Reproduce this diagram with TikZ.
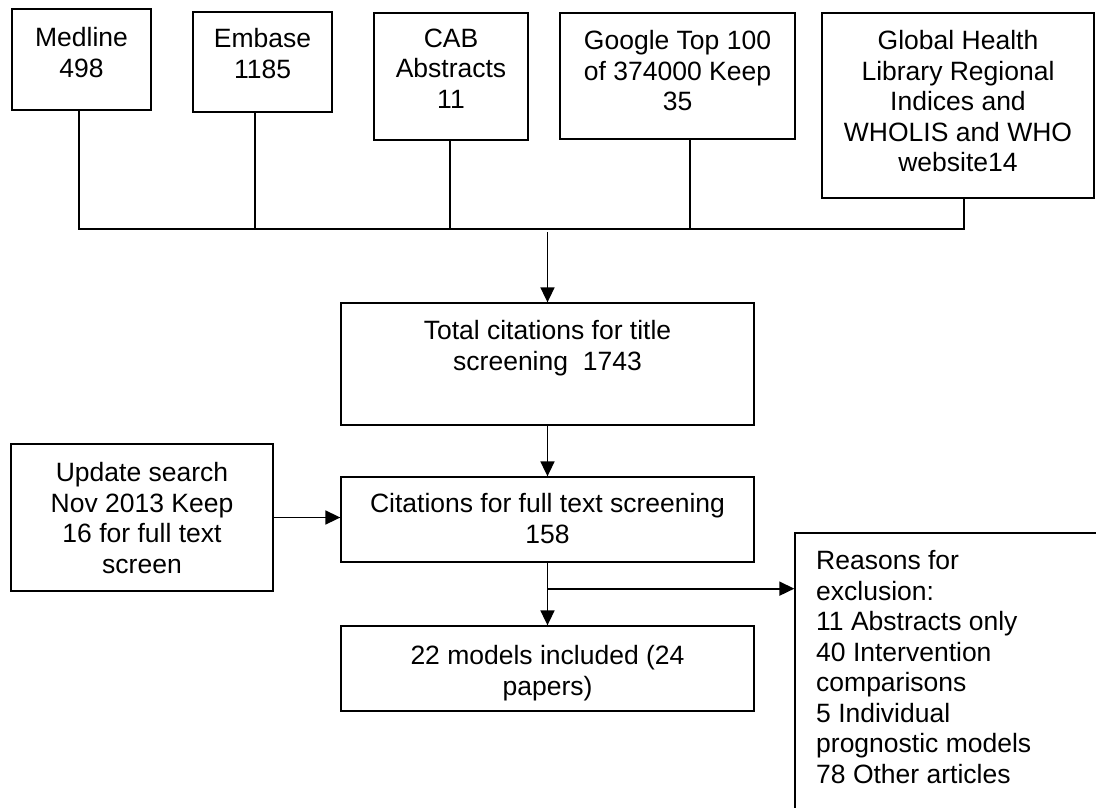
\documentclass[tikz,border=0pt]{standalone}
\usepackage{fontspec}
\setmainfont{Liberation Sans}
\usetikzlibrary{arrows.meta,fit,calc}
\begin{document}
\begin{tikzpicture}[x=1pt,y=-1pt,
  box/.style={draw, line width=1.3pt, inner sep=0pt},
  lbl/.style={inner sep=0pt, anchor=north, align=center, font=\fontsize{26.5}{30.5}\selectfont},
  lblL/.style={lbl, anchor=north west, align=left},
  conn/.style={line width=1.7pt},
  arr/.style={conn, -{Triangle[length=15pt,width=14pt]}}]
\useasboundingbox (0,0) rectangle (1096,807);
\clip (0,0) rectangle (1096,807);
% source boxes
\node[box, fit={(12,9) (151,110)}] (medline) {};
\node[lbl] (medlineT) at (81.5,27.5) {Medline\\498};
\node[box, fit={(193,12) (332,112)}] (embase) {};
\node[lbl] (embaseT) at (262.5,28.5) {Embase\\1185};
\node[box, fit={(374,13) (528,140)}] (cab) {};
\node[lbl] (cabT) at (451,28.5) {CAB\\Abstracts\\11};
\node[box, fit={(560,13) (795,139)}] (google) {};
\node[lbl] (googleT) at (677.5,30.5) {Google Top 100\\of 374000 Keep\\35};
\node[box, fit={(822,13) (1094,198)}] (global) {};
\node[lbl] (globalT) at (958,30.5) {Global Health\\Library Regional\\Indices and\\WHOLIS and WHO\\website14};
% main column
\node[box, fit={(341,303) (754,425)}] (total) {};
\node[lbl] (totalT) at (547.5,320.5) {Total citations for title\\screening~~1743};
\node[box, fit={(341,477) (754,562)}] (citations) {};
\node[lbl] (citationsT) at (547.5,493.5) {Citations for full text screening\\158};
\node[box, fit={(341,626) (754,711)}] (models) {};
\node[lbl] (modelsT) at (547.5,645.5) {22 models included (24\\papers)};
\node[box, fit={(11,444) (273,591)}] (update) {};
\node[lbl] (updateT) at (142,462.5) {Update search\\Nov 2013 Keep\\16 for full text\\screen};
\node[box, fit={(795,533) (1130,840)}] (reasons) {};
\node[lblL] (reasonsT) at (816,550.5) {Reasons for\\exclusion:\\11 Abstracts only\\40 Intervention\\comparisons\\5 Individual\\prognostic models\\78 Other articles};
% bus
\coordinate (busL) at (79,229);
\draw[conn] ([xshift=-2.5pt]medline.south) -- ([xshift=-2.5pt]medline.south |- busL)
  -- ([xshift=6pt]global.south |- busL) -- ([xshift=6pt]global.south);
\draw[conn] ([xshift=-7.5pt]embase.south) -- ([xshift=-7.5pt]embase.south |- busL);
\draw[conn] ([xshift=-1pt]cab.south) -- ([xshift=-1pt]cab.south |- busL);
\draw[conn] ([xshift=12.5pt]google.south) -- ([xshift=12.5pt]google.south |- busL);
% arrows
\draw[arr] ([yshift=-3pt]total.north |- busL) -- (total.north);
\draw[arr] (total.south) -- (citations.north);
\draw[arr] (citations.south) -- (models.north);
\coordinate (br) at ($(citations.south)+(0,26)$);
\draw[arr] (br) -- (br -| reasons.west);
\draw[arr] (update.east) -- (update.east -| citations.west);
\end{tikzpicture}
\end{document}
